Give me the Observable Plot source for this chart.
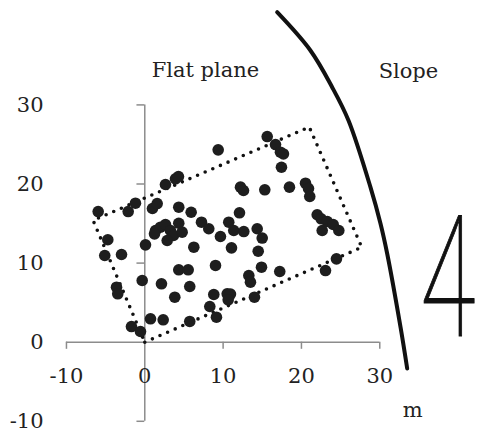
<!DOCTYPE html>
<html>
<head>
<meta charset="utf-8">
<script src="https://cdn.jsdelivr.net/npm/d3@7"></script>
<script src="https://cdn.jsdelivr.net/npm/@observablehq/plot@0.6"></script>
<style>
  html, body { margin: 0; padding: 0; background: #fff; }
  #chart { width: 484px; height: 434px; }
</style>
</head>
<body>
<div id="chart"></div>
<script>
// Tick values and labels
const xTicks = [-10, 0, 10, 20, 30];
const yTicks = [-10, 0, 10, 20, 30];

// Point observations (m)
const px = [-5.95,-2.12,-1.19,0.98,1.58,-4.72,-5.11,-2.97,0.09,-3.61,-3.45,-0.33,-1.70,-0.55,0.73,2.35,5.74,
  2.64,3.92,4.30,4.34,5.92,1.37,2.00,2.64,3.28,3.66,2.86,4.34,4.77,1.24,7.24,8.17,6.26,4.34,5.54,2.13,5.74,3.83,
  9.37,9.66,9.03,8.81,8.30,9.15,10.72,11.36,12.64,12.09,11.07,12.22,12.60,14.35,14.99,14.48,14.90,13.28,13.49,
  10.52,10.94,10.65,14.00,15.32,15.63,16.69,17.32,17.70,17.45,18.47,17.23,20.52,20.90,21.06,22.01,22.52,22.65,
  23.30,24.05,24.77,23.07,24.47];
const py = [16.52,16.52,17.57,16.90,17.53,12.95,10.96,11.09,12.31,6.95,6.12,7.80,1.98,1.35,2.96,2.83,2.62,
  19.94,20.66,20.95,17.07,16.43,14.12,14.54,14.88,14.12,13.49,12.86,15.04,13.91,13.70,15.17,14.34,12.01,9.15,9.15,7.38,7.04,5.69,
  24.32,13.36,9.70,6.03,4.51,3.16,15.17,14.12,13.99,16.36,11.93,19.60,19.18,14.34,13.17,11.50,9.48,8.43,7.59,
  6.12,6.09,5.36,5.69,19.27,26.00,24.99,24.02,23.80,22.12,19.60,8.94,20.10,19.43,18.42,16.11,15.60,14.12,
  15.25,14.88,14.12,9.06,10.54];

// Dotted survey rectangle corners
const rectX = [0, 27.7, 21.0, -6.6, 0];
const rectY = [0, 12.0, 27.2, 15.4, 0];

// Slope boundary curve
const slopeX = [16.90, 21.15, 23.92, 26.01, 28.81, 30.09, 30.95, 32.65, 33.50];
const slopeY = [41.72, 36.88, 32.24, 28.03, 19.60, 15.01, 11.18, 1.90, -3.32];

// Annotations
const noteText = ["Flat plane", "Slope"];
const noteX = [7.74, 33.66];
const noteY = [34.4, 34.3];

const points = px.map((x, i) => ({x, y: py[i]}));
const rect = rectX.map((x, i) => ({x, y: rectY[i]}));
const slope = slopeX.map((x, i) => ({x, y: slopeY[i]}));
const notes = noteText.map((t, i) => ({t, x: noteX[i], y: noteY[i]}));

const serif = "DejaVu Serif";
const axisColor = "#8c8c8c";

const chart = Plot.plot({
  width: 484,
  height: 434,
  margin: 0,
  style: {background: "#fff", fontFamily: serif},
  x: {domain: [-18.42, 43.37], axis: null},
  y: {domain: [-11.67, 43.20], axis: null},
  marks: [
    // axes
    Plot.ruleY([0], {x1: xTicks[0], x2: xTicks[xTicks.length - 1], stroke: axisColor, strokeWidth: 1.5}),
    Plot.ruleX([0], {y1: yTicks[0], y2: yTicks[yTicks.length - 1], stroke: axisColor, strokeWidth: 1.5}),
    Plot.ruleX(xTicks.filter(d => d !== 0), {y1: 0, y2: -0.9, stroke: axisColor, strokeWidth: 1.5}),
    Plot.ruleY(yTicks.filter(d => d !== 0), {x1: -1.0, x2: 0, stroke: axisColor, strokeWidth: 1.5}),
    Plot.text(xTicks, {x: d => d, y: -4.26, text: d => String(d), fontSize: 21, fill: "#222", fontFamily: serif}),
    Plot.text(yTicks, {x: -12.93, y: d => d, text: d => String(d), fontSize: 21, fill: "#222", textAnchor: "end", fontFamily: serif}),
    // survey rectangle
    Plot.line(rect, {x: "x", y: "y", stroke: "#111", strokeWidth: 3.6, strokeDasharray: "0,8.3", strokeLinecap: "round"}),
    // points
    Plot.dot(points, {x: "x", y: "y", r: 5.8, fill: "#1e1e1e"}),
    // slope boundary
    Plot.line(slope, {x: "x", y: "y", curve: "catmull-rom", stroke: "#111", strokeWidth: 4}),
    // annotations
    Plot.text(notes, {x: "x", y: "y", text: "t", fontSize: 21, fill: "#222", fontFamily: serif}),
    Plot.text(["m"], {x: 34.2, y: -8.6, text: d => d, fontSize: 21, fill: "#222", fontFamily: serif}),
    Plot.text(["4"], {x: 35.12, y: 7.67, text: d => d, fontSize: 169, fontWeight: 100, fill: "#111", stroke: "#111", strokeWidth: 1, textAnchor: "start", fontFamily: "Roboto"})
  ]
});
document.getElementById("chart").appendChild(chart);

// narrow the hand-drawn "4" horizontally
d3.select(chart).selectAll("text").filter(function () { return this.textContent === "4"; }).each(function () {
  this.setAttribute("vector-effect", "non-scaling-stroke");
  this.style.vectorEffect = "non-scaling-stroke";
  const t = this.getAttribute("transform");
  if (t) {
    this.setAttribute("transform", t + " scale(0.6,1)");
  } else {
    const x = +this.getAttribute("x") || 0;
    this.setAttribute("transform", `translate(${x},0) scale(0.6,1) translate(${-x},0)`);
  }
});
</script>
</body>
</html>
